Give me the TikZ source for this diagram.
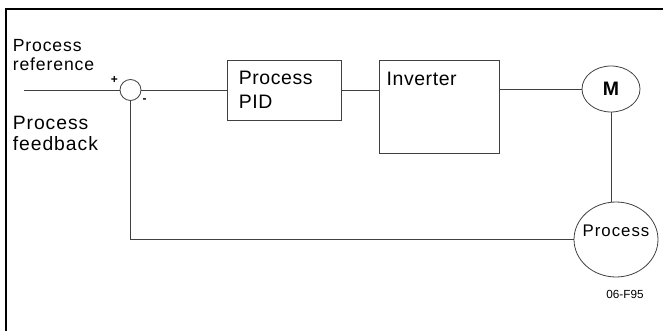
\documentclass[tikz,border=0pt]{standalone}
\usepackage{fontspec}
\setmainfont{Liberation Sans}
\newfontfamily\tagfont[LetterSpace=5]{Liberation Sans}
\newfontfamily\loadfont[LetterSpace=6]{Liberation Sans}
\newfontfamily\boxfont[LetterSpace=3]{Liberation Sans}
\usetikzlibrary{shapes.geometric,positioning}

\begin{document}
\begin{tikzpicture}[
  x=0.75pt, y=-0.75pt,
  wire/.style={draw=black!75, line width=0.6pt},
  frame/.style={draw=black, line width=1.7pt},
  junction/.style={wire, circle, minimum size=15.75pt, inner sep=0pt},
  block/.style={wire, align=left, font=\boxfont\fontsize{14.6pt}{18pt}\selectfont},
  tag/.style={align=left, inner sep=0pt, anchor=north west},
  sign/.style={inner sep=0pt, font=\bfseries\fontsize{9pt}{10pt}\selectfont},
  motor/.style={wire, ellipse, minimum width=43.5pt, minimum height=34.5pt, inner sep=0pt,
                font=\bfseries\fontsize{14.6pt}{16pt}\selectfont},
  load/.style={wire, ellipse, minimum width=63pt, minimum height=56.25pt, inner sep=0pt,
               text height=9pt, text depth=12.8pt, font=\loadfont\fontsize{12.6pt}{14pt}\selectfont}
]
\useasboundingbox (0,0) rectangle (663,331);
\draw[frame] (6,331) -- (6,9) -- (663,9);

% forward path
\coordinate (ref) at (24,90);
\node[junction] (sum) at (130.5,90) {};
\node[block, right=64.5pt of sum, minimum height=45pt, text width=69pt, inner xsep=8.25pt] (pid) {Process\\PID};
\node[block, below right=0pt and 27.75pt of pid.north east, text width=79.5pt, inner xsep=5.25pt,
      inner ysep=0pt, text height=19.5pt, text depth=50.25pt] (inv) {Inverter};
\node[motor] (M) at (611,89) {M};
\node[load] (proc) at (616,239.5) {\makebox[0pt]{Process}};

% texts
\node[tag, font=\tagfont\fontsize{13.2pt}{14pt}\selectfont] (reftxt) at (12.5,39) {Process\\reference};
\node[tag, font=\tagfont\fontsize{14.5pt}{16pt}\selectfont] (fbtxt) at (12.5,115.5) {Process\\feedback};
\node[sign] (plus) at (114.5,79.5) {+};
\node[sign] (minus) at (144.5,101) {-};
\node[font=\fontsize{8.8pt}{10pt}\selectfont, inner sep=0pt] (figcode) at (625,294) {06-F95};

\draw[wire] (ref) -- (sum.west);
\draw[wire] (sum.east) -- (pid.west);
\draw[wire] (pid.east) -- (pid.east -| inv.west);
\draw[wire] (inv.east |- M) -- (M.west);
\draw[wire] (M.south) -- (M.south |- proc.north);
\draw[wire] (sum.south) |- (proc.west);
\end{tikzpicture}
\end{document}
